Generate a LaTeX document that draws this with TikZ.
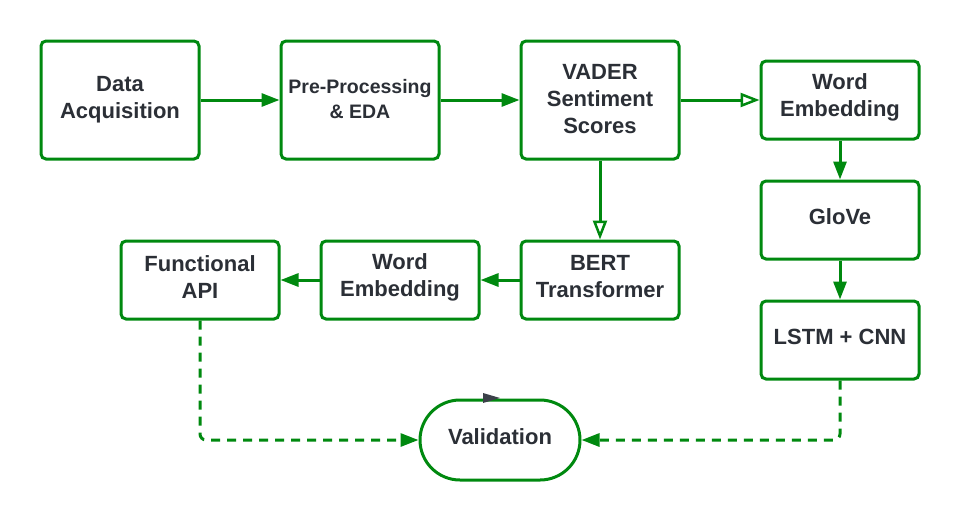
\documentclass[tikz,border=0pt]{standalone}
\usepackage{fontspec}
\setmainfont{Liberation Sans}
\usetikzlibrary{arrows.meta}
\definecolor{gr}{RGB}{0,137,15}
\definecolor{tx}{RGB}{43,47,54}
\definecolor{dk}{RGB}{59,64,73}
\begin{document}
\begin{tikzpicture}[x=1pt,y=-1pt,
  box/.style={draw=gr, line width=3pt, rounded corners=5pt, fill=white,
    minimum width=158pt, inner sep=0pt},
  lbl/.style={align=center, text=tx, font=\bfseries\fontsize{22}{27}\selectfont, inner sep=0pt, yshift=3pt},
  arr/.style={draw=gr, line width=3pt, -{Triangle[length=18pt,width=13pt]}},
  oarr/.style={draw=gr, line width=3pt, -{Triangle[open,length=19pt,width=14pt,line width=2.5pt,fill=white]}},
  darr/.style={draw=gr, line width=3pt, dash pattern=on 9pt off 7pt, rounded corners=6pt, -{Triangle[length=18pt,width=13pt]}}]
\useasboundingbox (0,0) rectangle (960,520);
\node[box, minimum height=118pt, label={[lbl, yshift=-3pt]center:{Data\\Acquisition}}] (da) at (120,100) {};
\node[box, minimum height=118pt, label={[lbl, font=\bfseries\fontsize{19.5}{25}\selectfont, yshift=-2pt]center:{Pre-Processing\\\& EDA}}] (pp) at (360,100) {};
\node[box, minimum height=118pt, label={[lbl, yshift=-2pt]center:{VADER\\Sentiment\\Scores}}] (va) at (600,100) {};
\node[box, minimum height=78pt, label={[lbl]center:{Word\\Embedding}}] (we) at (840,100) {};
\node[box, minimum height=78pt, label={[lbl]center:{GloVe}}] (gl) at (840,220) {};
\node[box, minimum height=78pt, label={[lbl]center:{LSTM + CNN}}] (ls) at (840,340) {};
\node[box, minimum height=78pt, label={[lbl]center:{BERT\\Transformer}}] (be) at (600,280) {};
\node[box, minimum height=78pt, label={[lbl]center:{Word\\Embedding}}] (we2) at (400,280) {};
\node[box, minimum height=78pt, label={[lbl]center:{Functional\\API}}] (fa) at (200,280) {};
\node[box, minimum height=80pt, minimum width=160pt, rounded corners=40pt, label={[lbl]center:{Validation}}] (val) at (500,440) {};
\draw[arr] (da) -- (pp);
\draw[arr] (pp) -- (va);
\draw[oarr] (va) -- (we);
\draw[oarr] (va) -- (be);
\draw[arr] (we) -- (gl);
\draw[arr] (gl) -- (ls);
\draw[arr] (be) -- (we2);
\draw[arr] (we2) -- (fa);
\draw[darr] (fa.south) |- (val.west);
\draw[darr] (ls.south) |- (val.east);
\fill[dk] (500,398) -- (483,393) -- (483,403) -- cycle;
\end{tikzpicture}
\end{document}
